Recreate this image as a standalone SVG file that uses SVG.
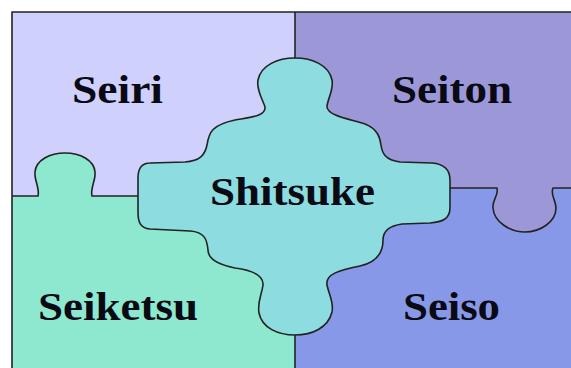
<svg xmlns="http://www.w3.org/2000/svg" width="571" height="368" viewBox="0 0 571 368">
<style>
.edge{fill:none;stroke:#222;stroke-width:1.6;stroke-linejoin:round}
.lbl{font-family:"Liberation Serif","Times New Roman",serif;font-weight:bold;font-size:40px;fill:#0a0a14}
</style>
<rect x="0" y="0" width="571" height="368" fill="#fff"/>
<g id="seiri">
<rect x="12" y="12" width="283" height="184" fill="#d0d0fc"/>
<text class="lbl" x="72" y="103" textLength="91" lengthAdjust="spacingAndGlyphs">Seiri</text>
</g>
<g id="seiton">
<rect x="295" y="12" width="276" height="176" fill="#9c98d8"/>
<text class="lbl" x="392" y="103" textLength="120" lengthAdjust="spacingAndGlyphs">Seiton</text>
</g>
<g id="seiketsu">
<rect x="12" y="196" width="283" height="172" fill="#8ee8d0"/>
<path d="M38,196 C40,188 34,180 35,172 C36,160 50,153 65,153 C80,153 94,160 95,172 C96,180 90,188 92,196 Z" fill="#8ee8d0"/>
<text class="lbl" x="38" y="320" textLength="160" lengthAdjust="spacingAndGlyphs">Seiketsu</text>
</g>
<g id="seiso">
<rect x="295" y="188" width="276" height="180" fill="#8898e8"/>
<path d="M497,188 C499,195 492,200 493,208 C494,222 510,232 525,232 C540,232 556,222 556,208 C556,200 550,195 553,188 Z" fill="#9c98d8"/>
<text class="lbl" x="403" y="320" textLength="97" lengthAdjust="spacingAndGlyphs">Seiso</text>
</g>
<g id="borders">
<path class="edge" d="M12,368 L12,12 L571,12"/>
<path class="edge" d="M295,12 L295,70"/>
<path class="edge" d="M295,320 L295,368"/>
<path class="edge" d="M12,196 L38,196 C40,188 34,180 35,172 C36,160 50,153 65,153 C80,153 94,160 95,172 C96,180 90,188 92,196 L150,196"/>
<path class="edge" d="M440,188 L497,188 C499,195 492,200 493,208 C494,222 510,232 525,232 C540,232 556,222 556,208 C556,200 550,195 553,188 L571,188"/>
</g>
<g id="shitsuke">
<path d="M265,107 C263,100 256,90 258,80 C261,65 278,58 295,58 C312,58 329,65 332,80 C334,90 327,100 327,107 C328,116 350,119 365,124 C378,129 380,138 381,145 C382,153 385,160 400,162 L432,163 C445,164 450,170 450,180 L450,208 C450,219 442,222 430,223 L402,224 C388,226 383,232 383,240 C383,252 378,262 360,266 C340,270 325,274 327,285 C329,295 334,302 332,312 C328,328 312,335 295,335 C278,335 262,328 259,313 C257,302 262,294 263,285 C264,274 250,270 235,268 C215,264 208,258 208,250 C207,240 205,232 190,231 L150,229 C140,228 138,222 138,212 L138,178 C138,168 142,163 150,163 L185,162 C200,161 205,155 207,145 C209,132 212,125 235,120 C252,117 266,116 265,107 Z" fill="#8cdce0" stroke="#222" stroke-width="1.6"/>
<text class="lbl" x="210" y="205" textLength="165" lengthAdjust="spacingAndGlyphs">Shitsuke</text>
</g>
</svg>
